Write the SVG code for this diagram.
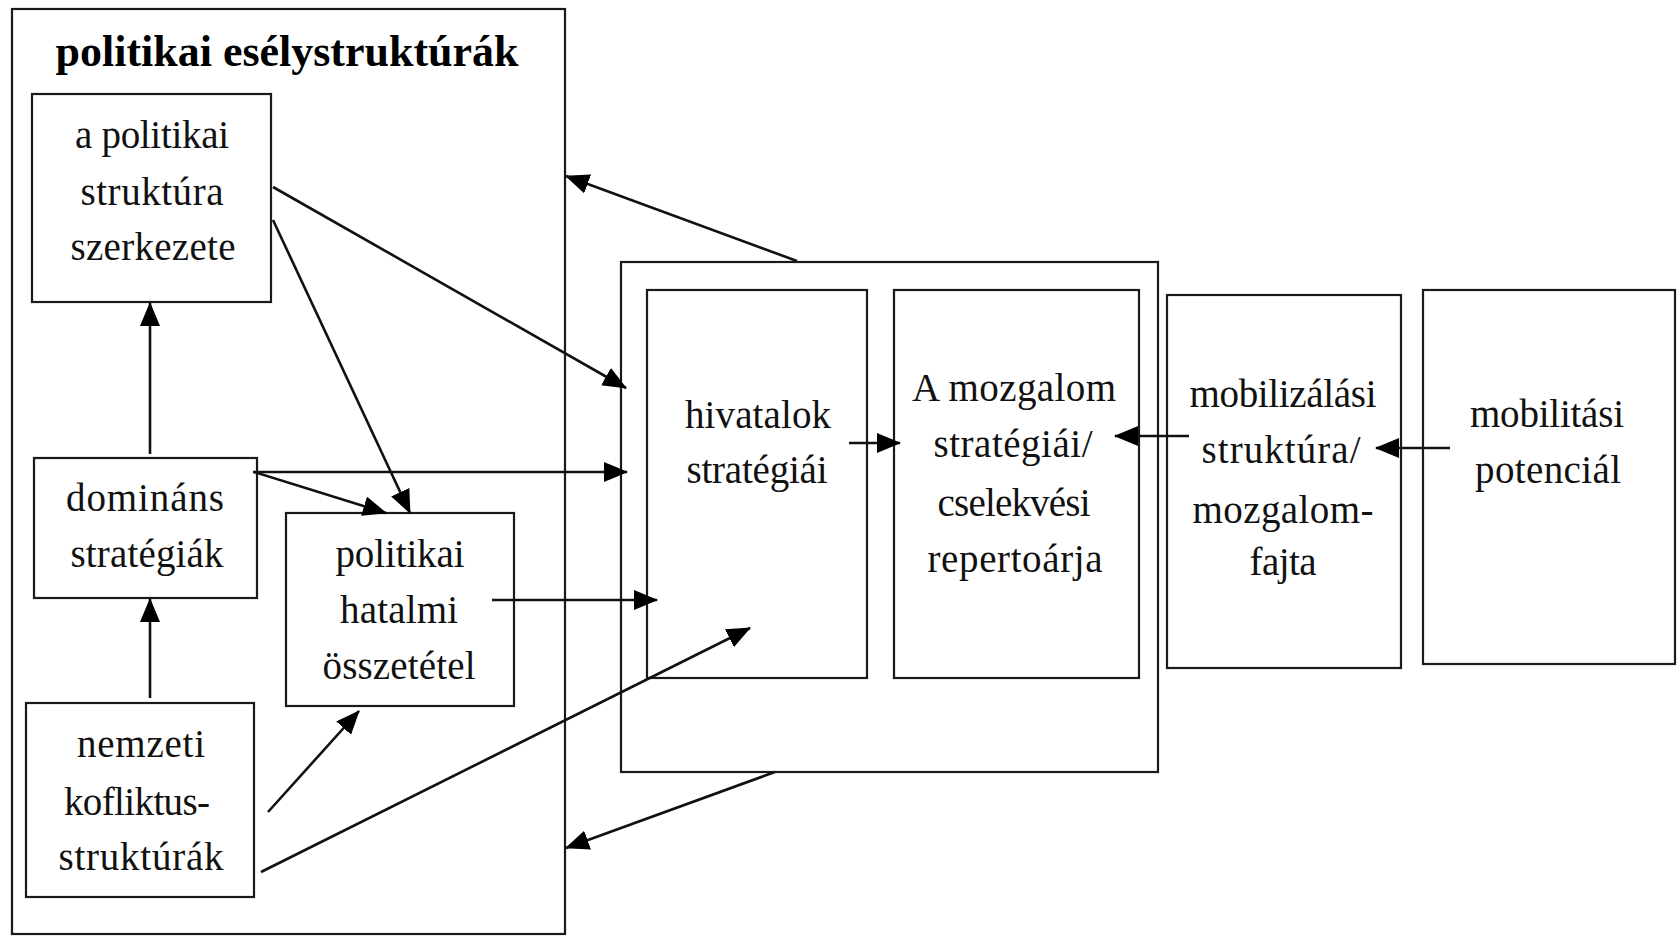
<svg xmlns="http://www.w3.org/2000/svg" width="1679" height="936" viewBox="0 0 1679 936">
<style>
.box{fill:none;stroke:#1a1a1a;stroke-width:2.2}
.t{font-family:"Liberation Serif","Times New Roman",serif;font-size:39px;fill:#111;text-anchor:middle}
.title{font-family:"Liberation Serif","Times New Roman",serif;font-size:44px;font-weight:bold;fill:#000;text-anchor:middle}
.c{fill:none;stroke:#111;stroke-width:2.6;marker-end:url(#ah)}
</style>
<defs>
<marker id="ah" viewBox="0 0 24 20" refX="23" refY="10" markerWidth="24" markerHeight="20" markerUnits="userSpaceOnUse" orient="auto">
<path d="M0,0 L24,10 L0,20 z" fill="#000"/>
</marker>
</defs>
<rect width="1679" height="936" fill="#fff"/>
<g id="pes">
<rect class="box" x="12" y="9" width="553" height="925"/>
<text class="title" x="287" y="66" textLength="463" lengthAdjust="spacingAndGlyphs">politikai esélystruktúrák</text>
</g>
<g id="n-szerkezet">
<rect class="box" x="32" y="94" width="239" height="208"/>
<text class="t" x="152" y="148" textLength="154">a politikai</text>
<text class="t" x="152" y="205" textLength="143">struktúra</text>
<text class="t" x="153" y="260" textLength="165">szerkezete</text>
</g>
<g id="n-dominans">
<rect class="box" x="34" y="458" width="223" height="140"/>
<text class="t" x="145" y="511" textLength="158">domináns</text>
<text class="t" x="147" y="567" textLength="153">stratégiák</text>
</g>
<g id="n-hatalmi">
<rect class="box" x="286" y="513" width="228" height="193"/>
<text class="t" x="400" y="567" textLength="129">politikai</text>
<text class="t" x="399" y="623" textLength="118">hatalmi</text>
<text class="t" x="399" y="679" textLength="153">összetétel</text>
</g>
<g id="n-nemzeti">
<rect class="box" x="26" y="703" width="228" height="194"/>
<text class="t" x="141" y="757" textLength="128">nemzeti</text>
<text class="t" x="137" y="815" textLength="146">kofliktus-</text>
<text class="t" x="141" y="870" textLength="165">struktúrák</text>
</g>
<g id="n-middle">
<rect class="box" x="621" y="262" width="537" height="510"/>
</g>
<g id="n-hivatalok">
<rect class="box" x="647" y="290" width="220" height="388"/>
<text class="t" x="758" y="428" textLength="146">hivatalok</text>
<text class="t" x="757" y="483" textLength="141">stratégiái</text>
</g>
<g id="n-mozgalom">
<rect class="box" x="894" y="290" width="245" height="388"/>
<text class="t" x="1014" y="401" textLength="204">A mozgalom</text>
<text class="t" x="1013" y="457" textLength="159">stratégiái/</text>
<text class="t" x="1014" y="516" textLength="153">cselekvési</text>
<text class="t" x="1015" y="572" textLength="175">repertoárja</text>
</g>
<g id="n-mobilizalasi">
<rect class="box" x="1167" y="295" width="234" height="373"/>
<text class="t" x="1283" y="407" textLength="187">mobilizálási</text>
<text class="t" x="1281" y="463" textLength="159">struktúra/</text>
<text class="t" x="1283" y="523" textLength="181">mozgalom-</text>
<text class="t" x="1283" y="575" textLength="67">fajta</text>
</g>
<g id="n-mobilitasi">
<rect class="box" x="1423" y="290" width="252" height="374"/>
<text class="t" x="1547" y="427" textLength="154">mobilitási</text>
<text class="t" x="1548" y="483" textLength="146">potenciál</text>
</g>
<g id="connectors">
<line class="c" x1="150" y1="454" x2="150" y2="303"/>
<line class="c" x1="150" y1="698" x2="150" y2="599"/>
<line class="c" x1="273" y1="187" x2="626" y2="388"/>
<line class="c" x1="273" y1="220" x2="410" y2="513"/>
<line class="c" x1="253" y1="472" x2="627" y2="472"/>
<line class="c" x1="254" y1="472" x2="386" y2="513"/>
<line class="c" x1="492" y1="600" x2="657" y2="600"/>
<line class="c" x1="268" y1="812" x2="359" y2="711"/>
<line class="c" x1="261" y1="872" x2="750" y2="628"/>
<line class="c" x1="797" y1="261" x2="566" y2="176"/>
<line class="c" x1="775" y1="772" x2="566" y2="848"/>
<line class="c" x1="849" y1="443" x2="900" y2="443"/>
<line class="c" x1="1189" y1="436" x2="1115" y2="436"/>
<line class="c" x1="1450" y1="448" x2="1376" y2="448"/>
</g>
</svg>
